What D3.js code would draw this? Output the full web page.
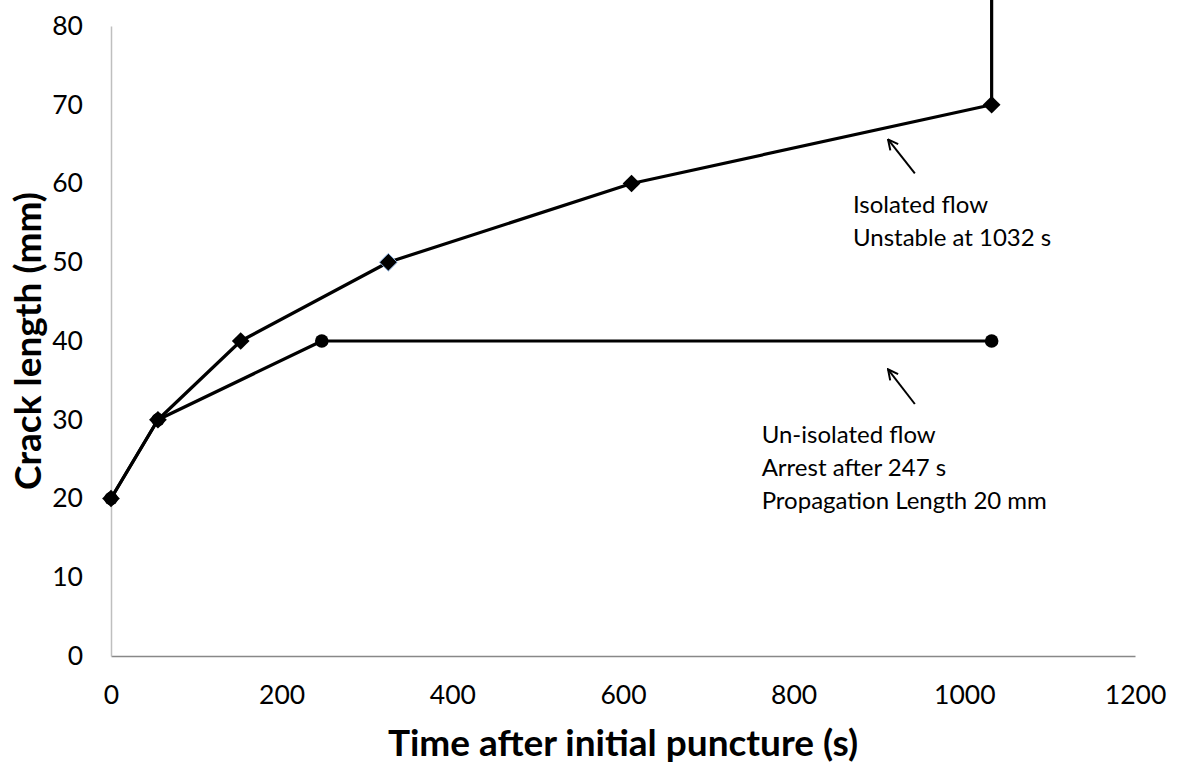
<!DOCTYPE html>
<html>
<head>
<meta charset="utf-8">
<script src="https://cdn.jsdelivr.net/npm/d3@7/dist/d3.min.js"></script>
<style>
  html, body { margin: 0; padding: 0; background: #ffffff; }
  svg { display: block; font-family: Lato, "Open Sans", sans-serif; }
</style>
</head>
<body>
<svg id="chart" width="1179" height="763"></svg>
<script>
// Crack growth after initial puncture
const isolatedTime   = [0, 55, 152, 325, 610, 1032];
const isolatedLength = [20, 30, 40, 50, 60, 70];
// after the last point the crack runs unstable (vertical rise off the chart)
const unstableTime   = [1032, 1032];
const unstableLength = [70, 90];

const unisolatedTime   = [0, 55, 247, 1032];
const unisolatedLength = [20, 30, 40, 40];

const xTicks = [0, 200, 400, 600, 800, 1000, 1200];
const yTicks = [0, 10, 20, 30, 40, 50, 60, 70, 80];

const W = 1179, H = 763;
const m = { left: 111, right: 44, top: 26, bottom: 107 };

const svg = d3.select("#chart");
const x = d3.scaleLinear().domain([0, 1200]).range([m.left, W - m.right]);
const y = d3.scaleLinear().domain([0, 80]).range([H - m.bottom, m.top]);

// axes (no tick marks, just lines and labels)
const xAxis = svg.append("g")
  .attr("transform", `translate(0,${y(0)})`)
  .call(d3.axisBottom(x).tickValues(xTicks).tickSize(0).tickPadding(29).tickFormat(d3.format("d")));
xAxis.select(".domain").attr("stroke", "#888888").attr("stroke-width", 1.5);
xAxis.selectAll("text").attr("font-size", 26.5).attr("fill", "#000").attr("font-family", "Lato, sans-serif");

const yAxis = svg.append("g")
  .attr("transform", `translate(${x(0)},0)`)
  .call(d3.axisLeft(y).tickValues(yTicks).tickSize(0).tickPadding(28).tickFormat(d3.format("d")));
yAxis.select(".domain").attr("stroke", "#bfbfbf").attr("stroke-width", 1.5);
yAxis.selectAll("text").attr("font-size", 26.5).attr("fill", "#000").attr("font-family", "Lato, sans-serif");

// axis titles
svg.append("text")
  .attr("x", (x(0) + x(1200)) / 2).attr("y", 756)
  .attr("text-anchor", "middle")
  .attr("font-size", 37).attr("font-weight", "bold")
  .text("Time after initial puncture (s)");

svg.append("text")
  .attr("transform", `translate(41,${(y(0) + y(80)) / 2}) rotate(-90)`)
  .attr("text-anchor", "middle")
  .attr("font-size", 37).attr("font-weight", "bold")
  .text("Crack length (mm)");

const line = d3.line().x(d => x(d[0])).y(d => y(d[1]));

// un-isolated flow series
const uni = unisolatedTime.map((t, i) => [t, unisolatedLength[i]]);
svg.append("path").datum(uni)
  .attr("d", line).attr("fill", "none").attr("stroke", "#000").attr("stroke-width", 3.2)
  .attr("stroke-linejoin", "round");
svg.append("g").selectAll("circle").data(uni).join("circle")
  .attr("cx", d => x(d[0])).attr("cy", d => y(d[1])).attr("r", 6.8).attr("fill", "#000");

// isolated flow series
const iso = isolatedTime.map((t, i) => [t, isolatedLength[i]]);
const rise = unstableTime.map((t, i) => [t, unstableLength[i]]);
svg.append("path").datum(iso.concat(rise.slice(1)))
  .attr("d", line).attr("fill", "none").attr("stroke", "#000").attr("stroke-width", 3.2)
  .attr("stroke-linejoin", "round");
const diamond = d3.symbol().type(d3.symbolDiamond2).size(200);
svg.append("g").selectAll("path").data(iso).join("path")
  .attr("transform", d => `translate(${x(d[0])},${y(d[1])})`)
  .attr("d", diamond)
  .attr("fill", "#000")
  .attr("stroke", (d, i) => i === 3 ? "#8db3e2" : "none")
  .attr("stroke-width", 1);

// annotation arrows (open heads)
const defs = svg.append("defs");
defs.append("marker")
  .attr("id", "openArrow").attr("viewBox", "0 0 12 12")
  .attr("refX", 11).attr("refY", 6)
  .attr("markerWidth", 12).attr("markerHeight", 12)
  .attr("markerUnits", "userSpaceOnUse")
  .attr("orient", "auto")
  .append("path").attr("d", "M1,1 L11,6 L1,11")
  .attr("fill", "none").attr("stroke", "#000").attr("stroke-width", 2);

function arrow(t0, v0, t1, v1) {
  svg.append("line")
    .attr("x1", x(t0)).attr("y1", y(v0))
    .attr("x2", x(t1)).attr("y2", y(v1))
    .attr("stroke", "#000").attr("stroke-width", 2)
    .attr("marker-end", "url(#openArrow)");
}
arrow(942, 61.3, 910.6, 65.6);
arrow(942, 32.0, 910.6, 36.4);

function note(t, v, lines) {
  const txt = svg.append("text")
    .attr("x", x(t)).attr("y", y(v))
    .attr("font-size", 24).attr("fill", "#000");
  lines.forEach((s, i) => {
    txt.append("tspan").attr("x", x(t)).attr("dy", i === 0 ? 0 : 33).text(s);
  });
}
note(869.5, 56.3, ["Isolated flow", "Unstable at 1032 s"]);
note(762.5, 27.0, ["Un-isolated flow", "Arrest after 247 s", "Propagation Length 20 mm"]);
</script>
</body>
</html>
